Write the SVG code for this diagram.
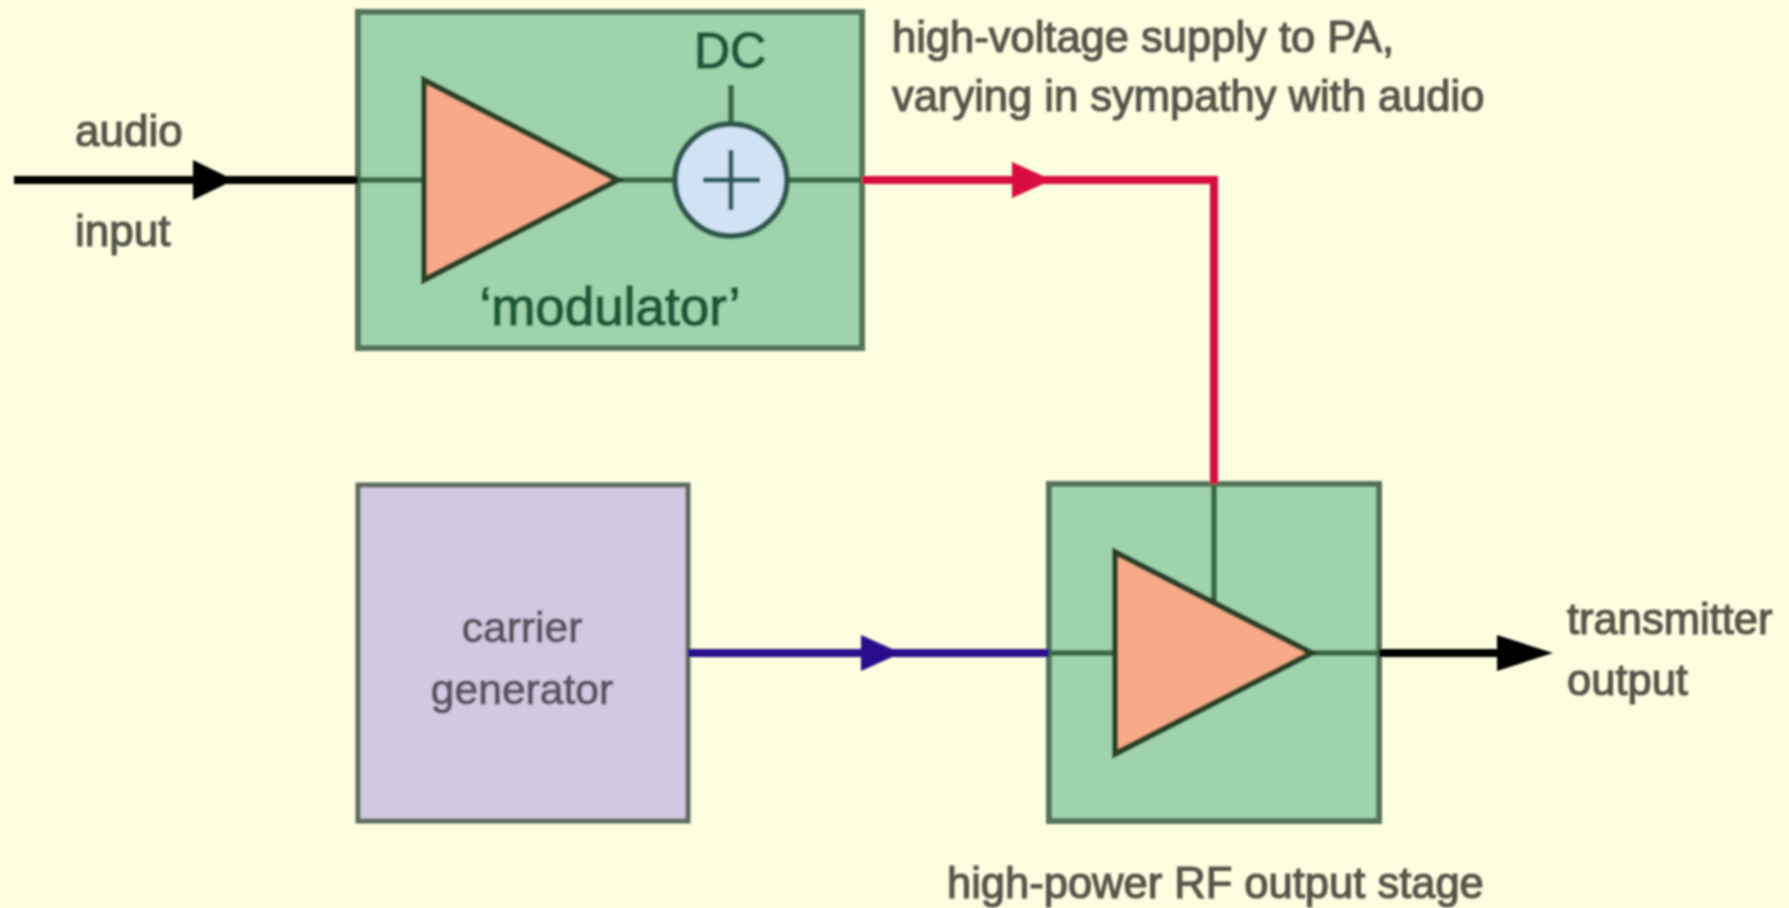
<svg xmlns="http://www.w3.org/2000/svg" width="1789" height="908" viewBox="0 0 1789 908">
<style>
text{font-family:"Liberation Sans",Arial,sans-serif}
.lab{font-size:43.5px;fill:#55554a;stroke:#55554a;stroke-width:1.2}
.aud{font-size:44px}
.car{font-size:42.6px;fill:#5a5560;stroke:#5a5560;stroke-width:1.2}
.grn{fill:#1f5a3a;stroke:#1f5a3a;stroke-width:1.6}
.box{fill:#9fd3ab;stroke:#54735a;stroke-width:6}
.tri{fill:#f8aa88;stroke:#2a4228;stroke-width:6;stroke-linejoin:miter}
.in{fill:none;stroke:#3a6a4a;stroke-width:6}
.w{fill:none;stroke-width:8}
</style>
<defs>
<filter id="soft" x="-2%" y="-2%" width="104%" height="104%"><feGaussianBlur stdDeviation="1.3"/></filter>
</defs>
<rect width="1789" height="908" fill="#fdfde0"/>
<g filter="url(#soft)">
<g id="modulator">
<rect class="box" x="358" y="12" width="504" height="336"/>
<path class="in" d="M358 180H426M615 180H674M788 180H862M731 85V123"/>
<polygon class="tri" points="424,80 618,180 424,280"/>
<circle cx="731" cy="180" r="56" fill="#cfe3f5" stroke="#2f5a50" stroke-width="6"/>
<path d="M703 180H760M731 150V210" fill="none" stroke="#2f5a60" stroke-width="5"/>
<text class="grn" x="730" y="68" font-size="50" text-anchor="middle">DC</text>
<text class="grn" x="610" y="325" font-size="53" text-anchor="middle">‘modulator’</text>
</g>
<g id="carrier">
<rect x="358" y="485" width="330" height="336" fill="#d3c8e2" stroke="#5d6b5c" stroke-width="5"/>
<text class="car" x="522" y="642" text-anchor="middle">carrier</text>
<text class="car" x="522" y="704" text-anchor="middle">generator</text>
</g>
<g id="output-stage">
<rect class="box" x="1049" y="484" width="330" height="337"/>
<path class="in" d="M1049 653H1116M1311 653H1379M1214 484V601"/>
<polygon class="tri" points="1115,552 1312,653 1115,754"/>
</g>
<g id="connectors">
<path class="w" stroke="#000" d="M14 180H358"/>
<polygon points="193,160 234,180 193,200" fill="#000"/>
<path class="w" stroke="#d7103f" d="M862 180H1214V484"/>
<polygon points="1012,162 1052,180 1012,198" fill="#d7103f"/>
<path class="w" stroke="#2c0a8c" d="M688 653H1049"/>
<polygon points="861,635 901,653 861,671" fill="#2c0a8c"/>
<path class="w" stroke="#000" d="M1379 653H1500"/>
<polygon points="1497,635 1553,653 1497,671" fill="#000"/>
</g>
<g id="labels">
<text class="lab aud" x="75" y="146">audio</text>
<text class="lab aud" x="75" y="246">input</text>
<text class="lab" x="892" y="52">high-voltage supply to PA,</text>
<text class="lab" x="892" y="111">varying in sympathy with audio</text>
<text class="lab" x="1567" y="634">transmitter</text>
<text class="lab" x="1567" y="695">output</text>
<text class="lab" x="947" y="898">high-power RF output stage</text>
</g>
</g>
</svg>
